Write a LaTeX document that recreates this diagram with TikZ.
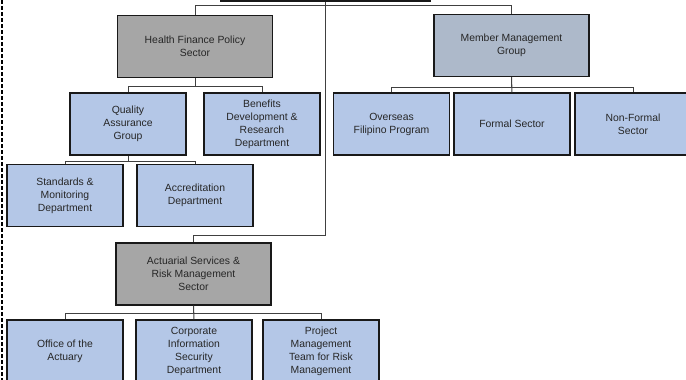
\documentclass[tikz,border=0pt]{standalone}
\usepackage{fontspec}
\setmainfont{Liberation Sans}
\usepackage{tikz}
\definecolor{unitblue}{HTML}{B4C7E7}
\definecolor{sectorgray}{HTML}{A6A6A6}
\definecolor{groupgray}{HTML}{ADB9CA}
\begin{document}
\begin{tikzpicture}[x=1pt, y=-1pt,
    office/.style ={rectangle, draw=black!90, line width=1.2pt, fill=unitblue,
      minimum width=116pt, minimum height=62pt, align=center, text=black!85,
      font=\fontsize{10.4}{13}\selectfont, inner sep=2pt},
    sector/.style ={office, fill=sectorgray, minimum width=155pt},
    group/.style ={office, fill=groupgray, minimum width=155pt},
    link/.style ={draw=black!75, line width=1pt}]
   \useasboundingbox (0,0) rectangle (686,380);
   \node[office, fill=white, minimum width=210pt] (head)  at (325.5,-30)  {};
   \node[sector] (hfps)  at (195,46.5)  {Health Finance Policy\\Sector};
   \node[group] (mmg)  at (511.5,45.5)  {Member Management\\Group};
   \node[office] (qag)  at (128,124)  {Quality\\Assurance\\Group};
   \node[office] (bdrd)  at (262,124)  {Benefits\\Development \&\\Research\\Department};
   \node[office] (ofp)  at (391.5,124)  {Overseas\\Filipino Program};
   \node[office] (formal)  at (512,124)  {Formal Sector};
   \node[office] (nonformal)  at (633,124)  {Non-Formal\\Sector};
   \node[office] (smd)  at (65,195.5)  {Standards \&\\Monitoring\\Department};
   \node[office] (accr)  at (195,195.5)  {Accreditation\\Department};
   \node[sector] (asrm)  at (193.5,274)  {Actuarial Services \&\\Risk Management\\Sector};
   \node[office] (oact)  at (65,351)  {Office of the\\Actuary};
   \node[office] (cisd)  at (194,351)  {Corporate\\Information\\Security\\Department};
   \node[office] (pmtr)  at (321,351)  {Project\\Management\\Team for Risk\\Management};

   \draw[black, line width=1.4pt, dash pattern=on 4pt off 2pt] (2,0) -- (2,380);

   \draw[link] (head.south) -- (325.5,235) -| (asrm.north);
   \draw[link] (hfps.north) -- ++(0,-9) -| (mmg.north);
   \draw[link] (hfps.south) -- ++(0,8) -| (qag.north);
   \draw[link] (hfps.south) -- ++(0,8) -| (bdrd.north);
   \draw[link] (qag.south) -- ++(0,6) -| (smd.north);
   \draw[link] (qag.south) -- ++(0,6) -| (accr.north);
   \draw[link] (mmg.south) -- ++(0,10) -| (ofp.north);
   \draw[link] (mmg.south) -- (formal.north);
   \draw[link] (mmg.south) -- ++(0,10) -| (nonformal.north);
   \draw[link] (asrm.south) -- ++(0,8) -| (oact.north);
   \draw[link] (asrm.south) -- (cisd.north);
   \draw[link] (asrm.south) -- ++(0,8) -| (pmtr.north);

 \end{tikzpicture}
\end{document}
